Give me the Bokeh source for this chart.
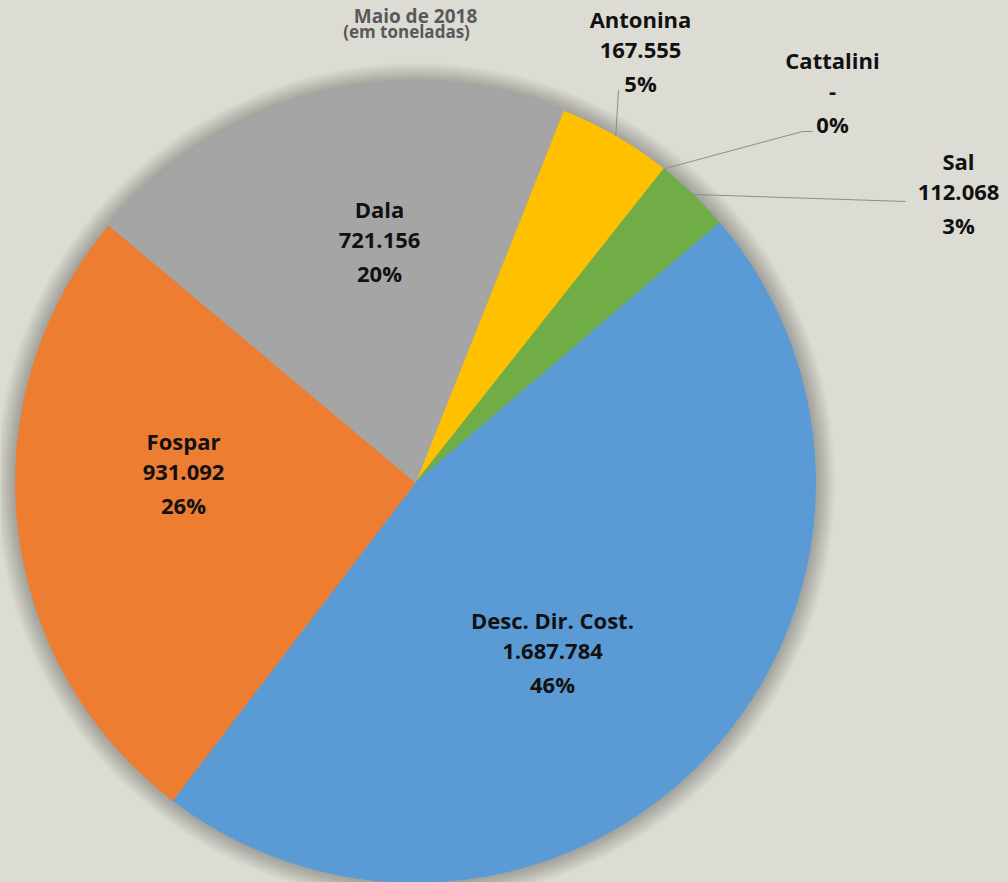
import math
from bokeh.plotting import figure
from bokeh.models import Range1d
from bokeh.core.properties import value
from bokeh.embed import file_html
from bokeh.resources import INLINE

# ---- data ----
categories = ["Antonina", "Cattalini", "Sal", "Desc. Dir. Cost.", "Fospar", "Dala"]
tonnes = [167555, 0, 112068, 1687784, 931092, 721156]
pct_labels = ["5%", "0%", "3%", "46%", "26%", "20%"]
title_text = "Maio de 2018"
subtitle_text = "(em toneladas)"

# ---- style / layout ----
colors = ["#FFC000", "#4472C4", "#70AD47", "#5B9BD5", "#ED7D31", "#A5A5A5"]
BG = "#DCDCD4"
W, H = 1008, 882
CX, CY_SCREEN, R = 415, 482, 400
FIRST_ANGLE = 21.7  # degrees clockwise from 12 o'clock
label_pos = [(640, 50), (832, 91), (958, 192), (552, 651), (183, 472), (379, 240)]
leader_end = {0: [(618, 90)], 1: [(802, 131), (812, 131)], 2: [(905, 201)]}
LINE_GAP = 32
FONT = "Open Sans"


def sy(y):
    return H - y


CY = sy(CY_SCREEN)

p = figure(width=W, height=H, x_range=Range1d(0, W), y_range=Range1d(0, H),
           output_backend="svg", toolbar_location=None, min_border=0)
p.axis.visible = False
p.grid.visible = False
p.outline_line_color = None
p.background_fill_color = BG
p.border_fill_color = BG

# soft shadow around the pie
n_sh = 20
p.circle(x=[CX] * n_sh, y=[CY] * n_sh, radius=[R + k for k in range(1, n_sh + 1)],
         fill_color="black", fill_alpha=0.010, line_color=None)

total = float(sum(tonnes))
cum = FIRST_ANGLE
mids = []
for i, v in enumerate(tonnes):
    span = v / total * 360.0
    t1, t2 = cum, cum + span
    mids.append((t1 + t2) / 2.0)
    if v > 0:
        p.wedge(x=CX, y=CY, radius=R,
                start_angle=math.radians(90 - t1), end_angle=math.radians(90 - t2),
                direction="clock", fill_color=colors[i], line_color=colors[i], line_width=0.8)
    cum = t2

# leader lines
for i, pts in leader_end.items():
    a = math.radians(mids[i])
    x0 = CX + R * math.sin(a)
    y0 = CY + R * math.cos(a)
    xs = [x0] + [q[0] for q in pts]
    ys = [y0] + [sy(q[1]) for q in pts]
    p.line(xs, ys, line_color="#8C8C8C", line_width=1)

# labels
for i, cat in enumerate(categories):
    v = tonnes[i]
    vs = "-" if v == 0 else f"{v:,}".replace(",", ".")
    lx, ly = label_pos[i]
    lines = [cat, vs, pct_labels[i]]
    for j, t in enumerate(lines):
        p.text(x=[lx], y=[sy(ly + (j - 1) * LINE_GAP)], text=[t],
               text_align="center", text_baseline="middle",
               text_font=value(FONT), text_font_style="bold",
               text_font_size="22px", text_color="#111111")

# title
p.text(x=[CX], y=[sy(2)], text=[title_text], text_align="center",
       text_baseline="top", text_font=value(FONT), text_font_style="bold",
       text_font_size="19px", text_color="#595959")
p.text(x=[406], y=[sy(31)], text=[subtitle_text], text_align="center",
       text_baseline="middle", text_font=value(FONT), text_font_style="bold",
       text_font_size="17px", text_color="#595959")

html = file_html(p, INLINE)
html = html.replace("<head>", "<head><style>html,body{margin:0;padding:0;background:%s;}</style>" % BG, 1)
open("out.html", "w").write(html)
